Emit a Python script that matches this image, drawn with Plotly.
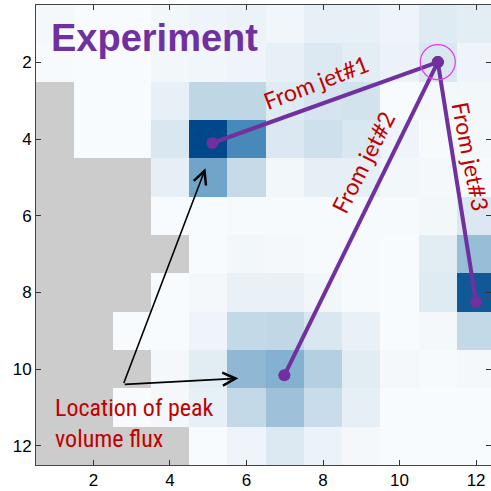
import plotly.graph_objects as go

N = None
cols = list(range(1, 13))
rows = list(range(1, 13))
flux = [
    [0.02, 0.0, 0.0, 0.03, 0.05, 0.06, 0.04, 0.08, 0.08, 0.05, 0.12, 0.10],
    [0.01, 0.0, 0.0, 0.03, 0.04, 0.05, 0.08, 0.13, 0.10, 0.06, 0.15, 0.05],
    [N, 0.0, 0.0, 0.08, 0.27, 0.27, 0.12, 0.17, 0.18, 0.0, 0.02, 0.03],
    [N, 0.0, 0.0, 0.15, 1.0, 0.71, 0.14, 0.20, 0.15, 0.05, 0.01, 0.02],
    [N, N, N, 0.09, 0.56, 0.24, 0.03, 0.09, 0.09, 0.03, 0.02, 0.01],
    [N, N, N, 0.0, 0.0, 0.01, 0.01, 0.01, 0.01, 0.01, 0.03, 0.14],
    [N, N, N, N, 0.0, 0.03, 0.02, 0.01, 0.01, 0.0, 0.11, 0.41],
    [N, N, N, 0.0, 0.02, 0.07, 0.07, 0.04, 0.01, 0.0, 0.12, 0.93],
    [N, N, 0.0, 0.0, 0.05, 0.25, 0.26, 0.15, 0.07, 0.0, 0.02, 0.25],
    [N, N, N, 0.02, 0.11, 0.44, 0.48, 0.31, 0.11, 0.02, 0.01, 0.02],
    [N, N, 0.0, 0.02, 0.08, 0.25, 0.39, 0.23, 0.09, 0.0, 0.0, 0.0],
    [N, N, N, N, 0.0, 0.05, 0.13, 0.06, 0.02, 0.0, 0.0, 0.0],
]

tick_vals = [2, 4, 6, 8, 10, 12]

# jet source and peak locations
source_x, source_y = 11.0, 1.99
jet_names = ["From jet#1", "From jet#2", "From jet#3"]
peak_x = [5.11, 6.99, 12.0]
peak_y = [4.10, 10.16, 8.25]
label_x = [7.82, 9.05, 11.86]
label_y = [2.51, 4.6, 4.44]
label_angle = [-21, -63, 79]

arrow_tail = (2.78, 10.4)
arrow_heads_x = [4.93, 5.79]
arrow_heads_y = [4.76, 10.24]

purple = "#7030a0"
red = "#c00000"

colorscale = [
    [0.0, "rgb(248,251,253)"],
    [0.25, "rgb(196,217,231)"],
    [0.5, "rgb(128,174,206)"],
    [0.75, "rgb(60,131,182)"],
    [1.0, "rgb(0,72,138)"],
]

fig = go.Figure()
fig.add_trace(go.Heatmap(
    z=flux, x=cols, y=rows, colorscale=colorscale, zmin=0, zmax=1,
    showscale=False, hoverongaps=False,
))

for i in range(3):
    fig.add_trace(go.Scatter(
        x=[source_x, peak_x[i]], y=[source_y, peak_y[i]],
        mode="lines+markers", line=dict(color=purple, width=4),
        marker=dict(color=purple, size=12), showlegend=False,
    ))

fig.add_trace(go.Scatter(
    x=[source_x], y=[source_y], mode="markers",
    marker=dict(symbol="circle-open", size=35, color="#e83ae8", line=dict(width=1.2, color="#e83ae8")),
    showlegend=False,
))

annotations = []
for i in range(3):
    annotations.append(dict(
        x=label_x[i], y=label_y[i], xref="x", yref="y", text=jet_names[i],
        showarrow=False, textangle=label_angle[i],
        font=dict(family="Lato, Noto Sans, sans-serif", size=23, color=red),
    ))
for hx, hy in zip(arrow_heads_x, arrow_heads_y):
    annotations.append(dict(
        x=hx, y=hy, ax=arrow_tail[0], ay=arrow_tail[1], xref="x", yref="y",
        axref="x", ayref="y", text="", showarrow=True, arrowhead=5,
        arrowsize=1.6, arrowwidth=1.6, arrowcolor="black", standoff=0,
    ))
annotations.append(dict(
    x=0.028, y=0.978, xref="paper", yref="paper", xanchor="left", yanchor="top",
    text="<b>Experiment</b>", showarrow=False,
    font=dict(family="Liberation Sans, Arial, sans-serif", size=38, color=purple),
))
annotations.append(dict(
    x=0.95, y=11.43, xref="x", yref="y", xanchor="left", yanchor="middle", align="left",
    text="Location of peak<br>volume flux", showarrow=False,
    font=dict(family="Liberation Sans Narrow, Roboto Condensed, Arial Narrow, sans-serif", size=24, color=red),
))

axis_common = dict(
    ticks="inside", ticklen=5, tickcolor="#333", showline=True, linecolor="#444",
    linewidth=1, mirror="ticks", showgrid=False, zeroline=False,
    tickvals=tick_vals, ticktext=[str(t) for t in tick_vals],
    tickfont=dict(family="Liberation Sans, Arial, sans-serif", size=17, color="black"),
)

fig.update_layout(
    width=491, height=491,
    margin=dict(l=36, r=0, t=5, b=26),
    paper_bgcolor="white", plot_bgcolor="#cccccc",
    xaxis=dict(range=[0.5, 12.39], **axis_common),
    yaxis=dict(range=[12.5, 0.5], **axis_common),
    annotations=annotations,
    showlegend=False,
)

fig.write_html(
    "out.html",
    config={"displayModeBar": False},
    post_script="document.body.style.margin='0';document.body.style.overflow='hidden';",
)
